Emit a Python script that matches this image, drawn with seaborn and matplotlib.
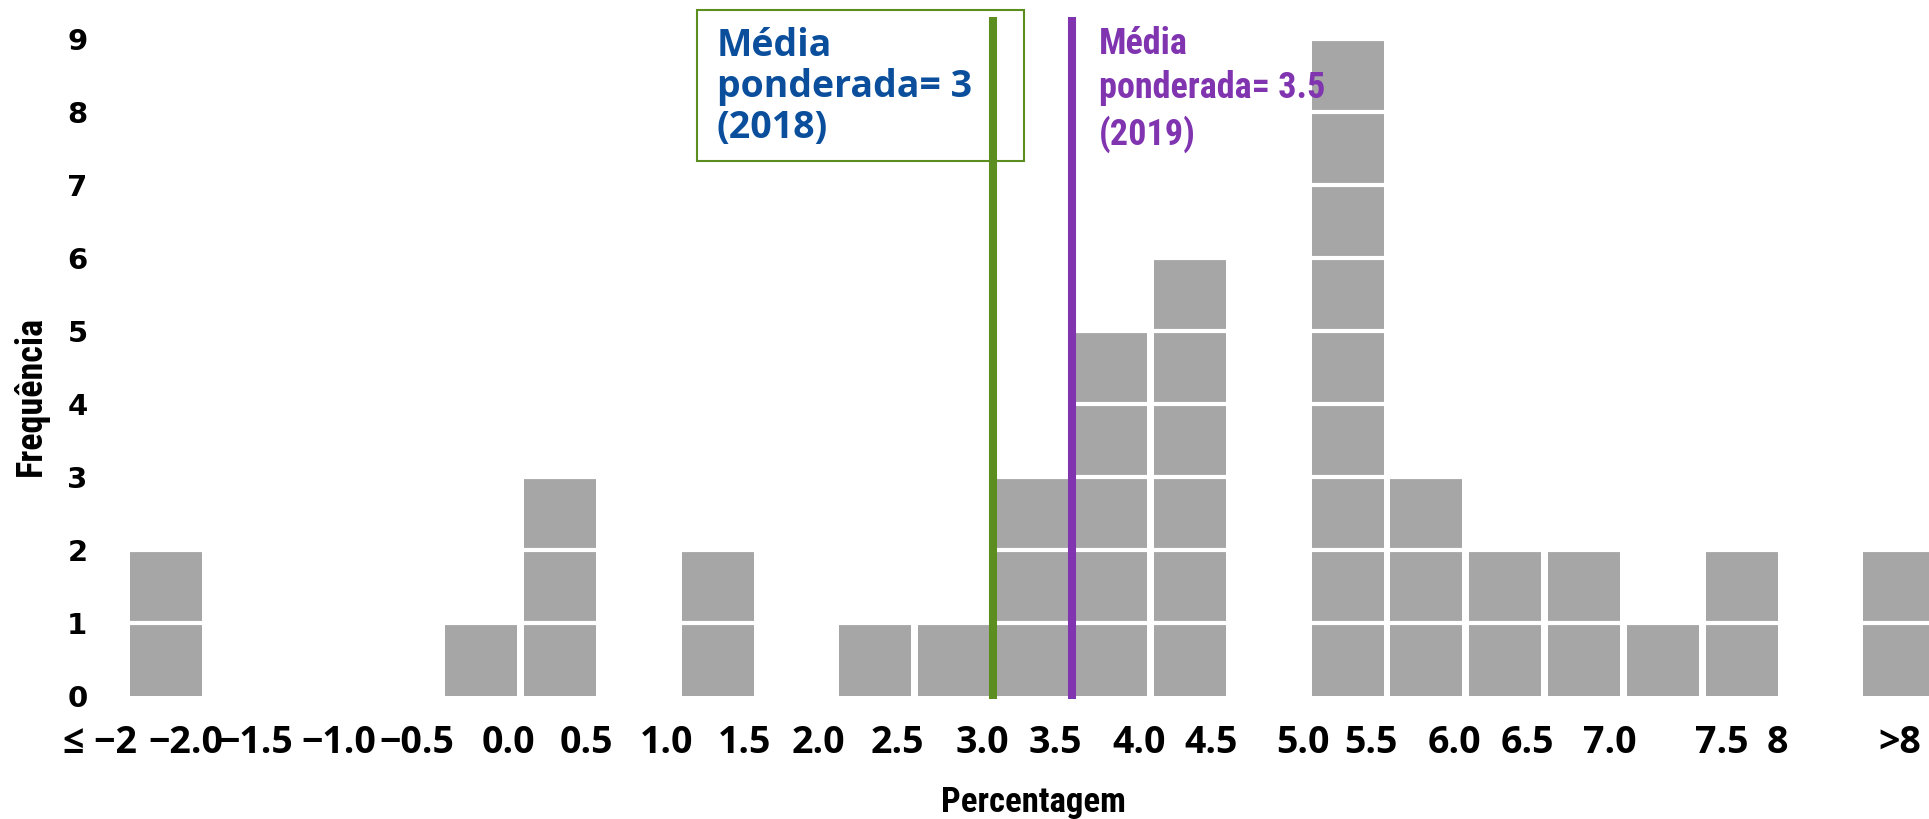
import matplotlib
matplotlib.use("Agg")
import pandas as pd
import matplotlib.pyplot as plt
from matplotlib.patches import Rectangle
import seaborn as sns

# Data
bins = ["≤ −2", "−2.0", "−1.5", "−1.0", "−0.5", "0.0", "0.5", "1.0", "1.5", "2.0", "2.5",
        "3.0", "3.5", "4.0", "4.5", "5.0", "5.5", "6.0", "6.5", "7.0", "7.5", "8", ">8"]
counts = [2, 0, 0, 0, 1, 3, 0, 2, 0, 1, 1, 3, 5, 6, 0, 9, 3, 2, 2, 1, 2, 0, 2]
mean_2018 = 3.0
mean_2019 = 3.5
bin_start = -2.0
bin_step = 0.5

# Layout: where the tick labels sit (in bar-slot units)
tick_pos = [-0.84, 0.25, 1.14, 2.19, 3.18, 4.35, 5.34, 6.35, 7.34, 8.28, 9.28,
            10.36, 11.29, 12.35, 13.27, 14.43, 15.29, 16.35, 17.28, 18.33, 19.75, 20.46, 22.01]

GREY = "#A6A6A6"
GREEN = "#5B8E1F"
PURPLE = "#8034B0"
BLUE = "#0B4F9C"
W, H = 1929, 819

sns.set_style("white")
narrow = ["Roboto Condensed", "Liberation Sans"]
segoe = ["Open Sans", "DejaVu Sans"]

df = pd.DataFrame({"bin": bins, "count": counts})

fig = plt.figure(figsize=(W / 100, H / 100), dpi=100)
ax = fig.add_axes([100 / W, 1 - 696 / H, 1 - 100 / W, 696 / H])

sns.barplot(data=df, x="bin", y="count", order=bins, color=GREY, saturation=1,
            width=0.914, linewidth=0, ax=ax, zorder=2)

# white separators between unit squares
for y in range(1, max(counts) + 1):
    ax.axhline(y, color="white", lw=3, zorder=2.5)

ax.set_xlim(-0.831, 22.38)
ax.set_ylim(0, 696 / 73)
for s in ax.spines.values():
    s.set_visible(False)

# mean lines, at the bin edge of each value
def slot(v):
    return (v - bin_start) / bin_step + 0.5

ax.vlines(slot(mean_2018), -0.04, 9.3, color=GREEN, lw=5.8, zorder=3, clip_on=False)
ax.vlines(slot(mean_2019), -0.04, 9.3, color=PURPLE, lw=5.8, zorder=3, clip_on=False)

ax.set_xticks(tick_pos, bins, fontsize=27, fontweight="bold", family=segoe, color="black")
ax.set_yticks(range(10), [str(i) for i in range(10)], fontsize=21, fontweight="bold",
              family=["DejaVu Sans"], color="black")
ax.tick_params(axis="x", length=0, pad=20)
ax.tick_params(axis="y", length=0, pad=9)
ax.set_xlabel("")
ax.set_ylabel("")

fig.text(1033 / W, 1 - 812 / H, "Percentagem", ha="center", va="baseline",
         fontsize=25, fontweight="bold", family=narrow, color="black")
fig.text(31 / W, 1 - 396 / H, "Frequência", ha="center", va="center", rotation=90,
         fontsize=26, fontweight="bold", family=narrow, color="black")

# annotation box for 2018
ax.add_patch(Rectangle((697 / W, 1 - 161 / H), (1024 - 697) / W, (161 - 10) / H,
                       transform=fig.transFigure, facecolor="white", edgecolor=GREEN,
                       lw=1.5, zorder=2.8, clip_on=False))
ax.text(717 / W, 1 - 27 / H, "Média\nponderada= 3\n(2018)", transform=fig.transFigure,
        ha="left", va="top", fontsize=27, fontweight="bold", color=BLUE, family=segoe,
        linespacing=1.1, zorder=4)
ax.text(1099 / W, 1 - 26 / H, "Média\nponderada= 3.5\n(2019)", transform=fig.transFigure,
        ha="left", va="top", fontsize=26, fontweight="bold", color=PURPLE, family=narrow,
        linespacing=1.3, zorder=4)

fig.savefig("out.png", dpi=100)
